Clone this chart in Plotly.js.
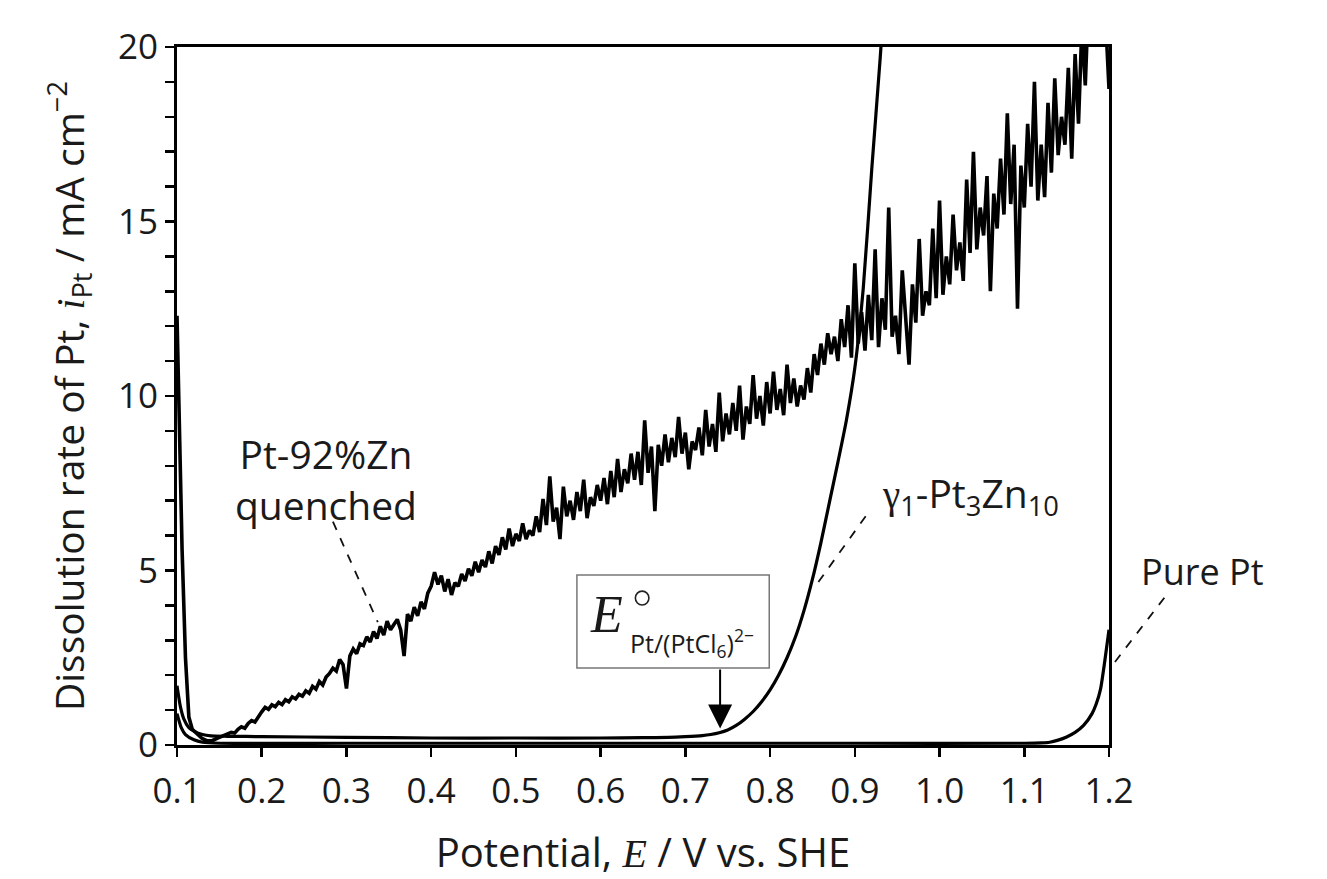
<!DOCTYPE html>
<html>
<head>
<meta charset="utf-8">
<script src="https://cdn.plot.ly/plotly-3.0.1.min.js"></script>
<style>html,body{margin:0;padding:0;background:#fff;}#chart{width:1327px;height:879px;}</style>
</head>
<body>
<div id="chart"></div>
<script>
// ---- Data ----
// Pt-92%Zn quenched (noisy curve)
const quenchedE = [
  0.100,0.103,0.106,0.110,0.114,0.118,0.124,0.130,0.136,0.142,0.148,0.154,
  0.160,0.164,0.168,0.172,0.176,0.180,0.184,0.188,0.192,0.196,
  0.200,0.204,0.208,0.212,0.216,0.220,0.224,0.228,0.232,0.236,
  0.240,0.244,0.248,0.252,0.256,0.260,0.264,0.268,0.272,0.276,
  0.280,0.284,0.288,0.292,0.296,0.300,0.304,0.308,0.312,0.316,
  0.320,0.324,0.328,0.332,0.336,0.340,0.344,0.348,0.352,0.356,
  0.360,0.364,0.368,0.372,0.376,0.380,0.384,0.388,0.392,0.396,
  0.400,0.404,0.408,0.412,0.416,0.420,0.424,0.428,0.432,0.436,
  0.440,0.444,0.448,0.452,0.456,0.460,0.464,0.468,0.472,0.476,
  0.480,0.484,0.488,0.492,0.496,0.500,0.504,0.508,0.512,0.516,
  0.520,0.524,0.528,0.532,0.536,0.540,0.544,0.548,0.552,0.556,
  0.560,0.564,0.568,0.572,0.576,0.580,0.584,0.588,0.592,0.596,
  0.600,0.604,0.608,0.612,0.616,0.620,0.624,0.628,0.632,0.636,
  0.640,0.644,0.648,0.652,0.656,0.660,0.664,0.668,0.672,0.676,
  0.680,0.684,0.688,0.692,0.696,0.700,0.704,0.708,0.712,0.716,
  0.720,0.724,0.728,0.732,0.736,0.740,0.744,0.748,0.752,0.756,
  0.760,0.764,0.768,0.772,0.776,0.780,0.784,0.788,0.792,0.796,
  0.800,0.804,0.808,0.812,0.816,0.820,0.824,0.828,0.832,0.836,
  0.840,0.844,0.848,0.852,0.856,0.860,0.864,0.868,0.872,0.876,
  0.880,0.884,0.888,0.892,0.896,0.900,0.904,0.908,0.912,0.916,
  0.920,0.924,0.928,0.932,0.936,0.940,0.944,0.948,0.952,0.956,
  0.960,0.964,0.968,0.972,0.976,0.980,0.984,0.988,0.992,0.996,
  1.000,1.004,1.008,1.012,1.016,1.020,1.024,1.028,1.032,1.036,
  1.040,1.044,1.048,1.052,1.056,1.060,1.064,1.068,1.072,1.076,
  1.080,1.084,1.088,1.092,1.096,1.100,1.104,1.108,1.112,1.116,
  1.120,1.124,1.128,1.132,1.136,1.140,1.144,1.148,1.152,1.156,
  1.160,1.164,1.168,1.172,1.176,1.180,1.184,1.188,1.192,1.196,
  1.200
];
const quenchedI = [
  12.3,8.5,5.6,2.5,0.8,0.45,0.30,0.18,0.12,0.13,0.20,0.25,
  0.30,0.36,0.34,0.45,0.52,0.48,0.62,0.70,0.66,0.82,
  0.95,1.08,1.02,1.15,1.10,1.22,1.16,1.30,1.24,1.38,
  1.32,1.45,1.40,1.55,1.48,1.68,1.60,1.82,1.72,1.95,
  2.05,2.20,2.12,2.45,2.30,1.62,2.55,2.75,2.62,2.90,
  2.85,3.10,2.95,3.25,3.05,3.40,3.15,3.55,3.30,3.45,
  3.60,3.30,2.55,3.75,3.55,3.95,3.70,4.10,3.90,4.35,
  4.55,4.95,4.60,4.85,4.40,4.75,4.30,4.65,4.55,4.90,
  4.70,5.05,4.85,5.25,4.95,5.30,5.10,5.55,5.20,5.70,
  5.45,5.95,5.60,6.20,5.70,6.05,5.85,6.35,5.90,6.15,
  6.00,6.55,6.10,7.05,6.30,7.70,6.40,6.80,5.90,7.40,
  6.55,7.00,6.45,7.25,6.70,7.60,6.50,7.10,6.85,7.45,
  7.00,7.65,6.90,7.85,7.10,8.20,7.25,7.90,7.50,8.35,
  7.60,8.40,7.45,9.30,7.80,8.55,6.70,8.60,8.00,8.90,
  8.10,8.80,8.25,9.40,8.35,8.95,7.90,8.70,8.45,9.10,
  8.30,9.60,8.55,9.20,8.40,10.10,8.70,9.50,8.90,9.80,
  9.00,10.30,8.75,9.70,9.20,10.60,9.35,10.00,9.15,10.40,
  9.50,10.70,9.60,10.20,9.45,10.90,9.80,10.50,9.70,10.30,
  9.90,10.80,10.10,11.20,10.60,11.50,10.90,11.80,11.20,11.70,
  11.00,12.20,11.40,12.60,11.10,13.80,11.50,12.40,11.30,12.90,
  11.60,14.20,11.40,12.80,11.90,15.40,11.70,12.30,11.20,13.60,
  12.40,10.90,13.20,12.10,14.50,12.30,13.00,12.60,14.80,12.80,
  15.60,12.90,14.00,13.20,15.20,13.60,14.40,13.30,16.20,14.10,
  17.00,14.20,15.40,14.60,16.30,13.00,15.80,14.80,16.80,15.20,
  18.10,15.50,17.20,12.50,16.60,15.40,17.80,16.00,19.00,15.60,
  17.20,15.70,18.40,16.40,19.10,16.90,18.00,17.20,19.40,16.80,
  19.80,17.80,20.60,18.90,21.50,20.40,22.50,23.50,22.80,21.00,
  18.80
];
// gamma1-Pt3Zn10
const gammaE = [0.100,0.104,0.108,0.114,0.120,0.130,0.140,0.160,0.200,0.300,0.400,0.500,0.600,0.650,0.680,0.700,0.720,0.730,0.740,0.750,0.760,0.770,0.780,0.790,0.800,0.810,0.820,0.830,0.840,0.850,0.860,0.870,0.880,0.890,0.900,0.910,0.920,0.930,0.935];
const gammaI = [1.70,1.10,0.75,0.50,0.40,0.30,0.26,0.25,0.24,0.22,0.20,0.20,0.20,0.21,0.22,0.24,0.27,0.30,0.35,0.43,0.56,0.74,0.96,1.24,1.58,2.00,2.50,3.10,3.85,4.75,5.80,6.95,8.10,9.30,10.80,13.10,16.50,19.70,21.50];
// Pure Pt
const pureE = [0.100,0.105,0.110,0.120,0.130,0.150,0.300,0.500,0.700,0.900,1.100,1.120,1.130,1.140,1.150,1.160,1.170,1.180,1.185,1.190,1.195,1.200];
const pureI = [0.90,0.50,0.30,0.15,0.08,0.05,0.05,0.05,0.05,0.05,0.05,0.06,0.08,0.14,0.23,0.36,0.56,0.90,1.18,1.60,2.40,3.30];

const xTicks = [0.1,0.2,0.3,0.4,0.5,0.6,0.7,0.8,0.9,1.0,1.1,1.2];
const yTicks = [0,5,10,15,20];

const FONT = '"Open Sans", Lato, sans-serif';
const INK = '#1a1a1a';
const serif = s => '<span style="font-family:Liberation Serif">' + s + '</span>';

const traces = [
  {x: pureE, y: pureI, type: 'scatter', mode: 'lines', line: {color:'#000', width: 3.2, shape: 'spline', smoothing: 0.6}, name: 'Pure Pt'},
  {x: gammaE, y: gammaI, type: 'scatter', mode: 'lines', line: {color:'#000', width: 3.2, shape: 'spline', smoothing: 0.6}, name: 'γ1-Pt3Zn10'},
  {x: quenchedE, y: quenchedI, type: 'scatter', mode: 'lines', line: {color: '#000', width: 3.6}, name: 'Pt-92%Zn quenched'}
];

const layout = {
  width: 1327, height: 879,
  paper_bgcolor: '#fff', plot_bgcolor: '#fff',
  showlegend: false,
  margin: {l: 177, r: 218, t: 47, b: 134},
  font: {family: FONT, color: INK, size: 35},
  xaxis: {
    range: [0.1, 1.2], tickvals: xTicks, ticktext: xTicks.map(v => v.toFixed(1)),
    ticks: 'outside', ticklen: 9, tickwidth: 2.5, tickcolor: '#000',
    ticklabelstandoff: 4,
    showline: true, linewidth: 3, linecolor: '#000', mirror: true,
    showgrid: false, zeroline: false,
    tickfont: {family: FONT, size: 35, color: INK},
    title: {text: 'Potential, ' + serif('<i>E</i>') + ' / V vs. SHE', font: {family: FONT, size: 40, color: INK}, standoff: 30}
  },
  yaxis: {
    range: [0, 20], tickvals: yTicks,
    ticks: 'outside', ticklen: 9, tickwidth: 2.5, tickcolor: '#000',
    minor: {dtick: 1, ticks: 'outside', ticklen: 9, tickwidth: 2.5, tickcolor: '#000', showgrid: false},
    showline: true, linewidth: 3, linecolor: '#000', mirror: true,
    showgrid: false, zeroline: false,
    tickfont: {family: FONT, size: 35, color: INK},
    title: {text: 'Dissolution rate of Pt, ' + serif('<i>i</i>') + '<sub>Pt</sub> / mA cm<sup>−2</sup>', font: {family: FONT, size: 39, color: INK}, standoff: 22}
  },
  shapes: [
    // E° label box
    {type: 'rect', xref: 'x', yref: 'y', x0: 0.572, x1: 0.799, y0: 2.206, y1: 4.871, line: {color: '#777', width: 1.5}, fillcolor: 'rgba(255,255,255,1)', layer: 'above'},
    // degree ring
    {type: 'circle', xref: 'x', yref: 'y', x0: 0.6410, x1: 0.6570, y0: 4.01, y1: 4.41, line: {color: '#222', width: 1.6}},
    // dashed leaders
    {type: 'line', xref: 'x', yref: 'y', x0: 0.284, y0: 6.40, x1: 0.337, y1: 3.52, line: {color: '#111', width: 1.8, dash: 'dash'}},
    {type: 'line', xref: 'x', yref: 'y', x0: 0.857, y0: 4.67, x1: 0.913, y1: 6.56, line: {color: '#111', width: 1.8, dash: 'dash'}},
    {type: 'line', xref: 'paper', yref: 'paper', x0: 1.0064, y0: 0.119, x1: 1.060, y1: 0.212, line: {color: '#111', width: 1.8, dash: 'dash'}}
  ],
  annotations: [
    {x: 0.276, y: 7.62, xref: 'x', yref: 'y', text: 'Pt-92%Zn<br>quenched', showarrow: false, font: {family: FONT, size: 39, color: INK}, xanchor: 'center', yanchor: 'middle'},
    {x: 1.037, y: 7.15, xref: 'x', yref: 'y', text: serif('γ') + '<sub>1</sub>-Pt<sub>3</sub>Zn<sub>10</sub>', showarrow: false, font: {family: FONT, size: 39, color: INK}, xanchor: 'center', yanchor: 'middle'},
    {x: 1.0998, y: 0.248, xref: 'paper', yref: 'paper', text: 'Pure Pt', showarrow: false, font: {family: FONT, size: 36, color: INK}, xanchor: 'center', yanchor: 'middle'},
    {x: 0.6075, y: 3.75, xref: 'x', yref: 'y', text: '<i>E</i>', showarrow: false, font: {family: 'Liberation Serif, serif', size: 52, color: INK}, xanchor: 'center', yanchor: 'middle'},
    {x: 0.708, y: 2.92, xref: 'x', yref: 'y', text: 'Pt/(PtCl<sub>6</sub>)<sup>2−</sup>', showarrow: false, font: {family: FONT, size: 25, color: INK}, xanchor: 'center', yanchor: 'middle'},
    {x: 0.741, y: 0.47, xref: 'x', yref: 'y', ax: 0.741, ay: 2.206, axref: 'x', ayref: 'y', text: '', showarrow: true, arrowhead: 2, arrowsize: 2.4, arrowwidth: 2, arrowcolor: '#000', standoff: 0}
  ]
};

Plotly.newPlot('chart', traces, layout, {staticPlot: true, displayModeBar: false});
</script>
</body>
</html>
